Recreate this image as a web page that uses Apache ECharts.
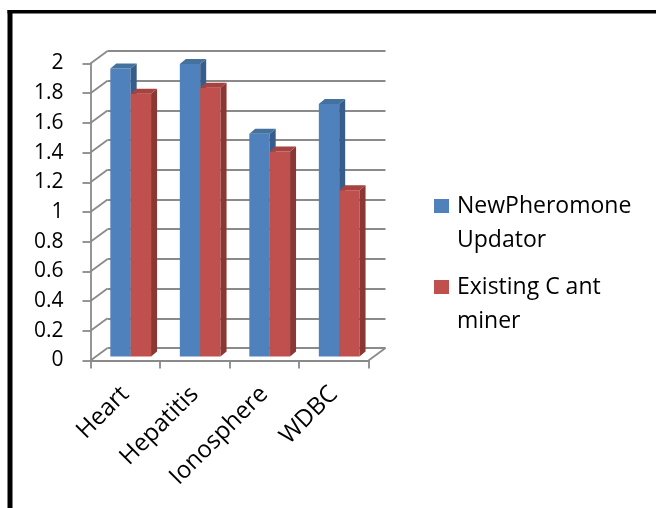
<!DOCTYPE html>
<html>
<head>
<meta charset="utf-8">
<script src="https://cdn.jsdelivr.net/npm/echarts@6/dist/echarts.min.js"></script>
<style>
  html, body { margin: 0; padding: 0; background: #fff; }
  #chart { width: 656px; height: 508px; }
</style>
</head>
<body>
<div id="chart"></div>
<script>
// ---- data ----
const categories = ['Heart', 'Hepatitis', 'Ionosphere', 'WDBC'];
const newPheromoneUpdator = [1.94, 1.97, 1.50, 1.70];
const existingCAntMiner = [1.77, 1.81, 1.38, 1.12];
const yTicks = [0, 0.2, 0.4, 0.6, 0.8, 1, 1.2, 1.4, 1.6, 1.8, 2];
const seriesNames = ['NewPheromone\nUpdator', 'Existing C ant\nminer'];

// ---- layout of the pseudo-3D box ----
const FONT = 'Open Sans';
const PLOT_W = 278, PLOT_H = 297;
const FRONT = { left: 90.5, top: 63.5 };          // front edge of the floor / left wall
const BACK = { left: 107.5, top: 51 };            // back wall
const DEPTH = 0.32;                               // depth plane the columns stand on
const BARS = {
  left: FRONT.left + (BACK.left - FRONT.left) * DEPTH,
  top: FRONT.top + (BACK.top - FRONT.top) * DEPTH
};
const BAR_FRAC = 0.293;                           // column width as a share of a category
const BAR_DX = 6, BAR_DY = -5;                    // column thickness in projection
const GRID_COLOR = '#8a8a8a';

const PALETTE = [
  { front: '#4f81bd', side: '#385d8a', top: '#44729f' },
  { front: '#c0504d', side: '#8b3835', top: '#a6423f' }
];

function columnRenderer(slot, pal) {
  return function (params, api) {
    const idx = api.value(0);
    const v = api.value(1);
    const top = api.coord([idx, v]);
    const base = api.coord([idx, 0]);
    const bw = api.size([1, 0])[0] * BAR_FRAC;
    const x0 = top[0] + slot * bw;
    const x1 = x0 + bw;
    const yT = top[1], yB = base[1];
    return {
      type: 'group',
      children: [
        { type: 'rect', shape: { x: x0, y: yT, width: bw, height: yB - yT }, style: { fill: pal.front } },
        { type: 'polygon', shape: { points: [[x1, yB], [x1, yT], [x1 + BAR_DX, yT + BAR_DY], [x1 + BAR_DX, yB + BAR_DY]] }, style: { fill: pal.side } },
        { type: 'polygon', shape: { points: [[x0, yT], [x1, yT], [x1 + BAR_DX, yT + BAR_DY], [x0 + BAR_DX, yT + BAR_DY]] }, style: { fill: pal.top } }
      ]
    };
  };
}

// diagonals of the left wall (and the floor's right edge) joining back wall to front axis
function wallRenderer(params, api) {
  const t = api.value(0);
  const cs = params.coordSys;
  const yb = api.coord([0, t])[1];
  const dx = FRONT.left - BACK.left, dy = FRONT.top - BACK.top;
  const children = [{
    type: 'line',
    shape: { x1: cs.x, y1: yb, x2: cs.x + dx, y2: yb + dy },
    style: { stroke: GRID_COLOR, lineWidth: 1.8 }
  }];
  if (t === 0) {
    children.push({
      type: 'line',
      shape: { x1: cs.x + cs.width, y1: yb, x2: cs.x + cs.width + dx, y2: yb + dy },
      style: { stroke: GRID_COLOR, lineWidth: 1.8 }
    });
  }
  return { type: 'group', children: children };
}

// square key aligned with the first text line of a two-line legend entry
const ICON = 'path://M0,0H15V14H0Z M18,48H18.01V48.01H18Z';

const chart = echarts.init(document.getElementById('chart'), null, { renderer: 'canvas' });
chart.setOption({
  backgroundColor: '#fff',
  animation: false,
  textStyle: { fontFamily: FONT },
  graphic: [
    { type: 'line', shape: { x1: 10, y1: 10, x2: 10, y2: 520 }, style: { stroke: '#000', lineWidth: 5 } },
    { type: 'line', shape: { x1: 7.5, y1: 11.75, x2: 670, y2: 11.75 }, style: { stroke: '#000', lineWidth: 3.5 } }
  ],
  legend: {
    orient: 'vertical',
    left: 434,
    top: 189,
    padding: 0,
    itemGap: 13,
    itemWidth: 18,
    itemHeight: 48,
    selectedMode: false,
    textStyle: { fontFamily: FONT, fontSize: 23, lineHeight: 34, color: '#000' },
    data: [
      { name: seriesNames[0], icon: ICON, itemStyle: { color: PALETTE[0].front, borderWidth: 0 } },
      { name: seriesNames[1], icon: ICON, itemStyle: { color: PALETTE[1].front, borderWidth: 0 } }
    ]
  },
  grid: [
    { left: BACK.left, top: BACK.top, width: PLOT_W, height: PLOT_H },
    { left: FRONT.left, top: FRONT.top, width: PLOT_W, height: PLOT_H },
    { left: BARS.left, top: BARS.top, width: PLOT_W, height: PLOT_H }
  ],
  xAxis: [
    { gridIndex: 0, type: 'category', data: categories, show: false },
    {
      gridIndex: 1, type: 'category', data: categories,
      axisLine: { lineStyle: { color: GRID_COLOR, width: 1.8 } },
      axisTick: { show: true, interval: 0, length: 8, lineStyle: { color: GRID_COLOR, width: 1.8 } },
      axisLabel: { interval: 0, rotate: 45, margin: 30, fontFamily: FONT, fontSize: 24, color: '#000' }
    },
    { gridIndex: 2, type: 'category', data: categories, show: false }
  ],
  yAxis: [
    {
      gridIndex: 0, type: 'value', min: 0, max: 2, interval: 0.2,
      axisLine: { show: false }, axisTick: { show: false }, axisLabel: { show: false },
      splitLine: { show: true, lineStyle: { color: GRID_COLOR, width: 1.8 } }
    },
    {
      gridIndex: 1, type: 'value', min: 0, max: 2, interval: 0.2,
      axisLine: { show: true, lineStyle: { color: GRID_COLOR, width: 1.8 } },
      axisTick: { show: true, length: 8, lineStyle: { color: GRID_COLOR, width: 1.8 } },
      axisLabel: { margin: 27, fontFamily: FONT, fontSize: 21, color: '#000' },
      splitLine: { show: false }
    },
    { gridIndex: 2, type: 'value', min: 0, max: 2, show: false, splitLine: { show: false } }
  ],
  series: [
    {
      type: 'custom', xAxisIndex: 0, yAxisIndex: 0, silent: true,
      renderItem: wallRenderer,
      data: yTicks.map(function (t) { return [t]; }),
      encode: { y: 0 }
    },
    {
      name: seriesNames[0], type: 'custom', xAxisIndex: 2, yAxisIndex: 2,
      itemStyle: { color: PALETTE[0].front },
      renderItem: columnRenderer(-1, PALETTE[0]),
      data: newPheromoneUpdator.map(function (v, i) { return [i, v]; }),
      encode: { x: 0, y: 1 }
    },
    {
      name: seriesNames[1], type: 'custom', xAxisIndex: 2, yAxisIndex: 2,
      itemStyle: { color: PALETTE[1].front },
      renderItem: columnRenderer(0, PALETTE[1]),
      data: existingCAntMiner.map(function (v, i) { return [i, v]; }),
      encode: { x: 0, y: 1 }
    }
  ]
});
</script>
</body>
</html>
